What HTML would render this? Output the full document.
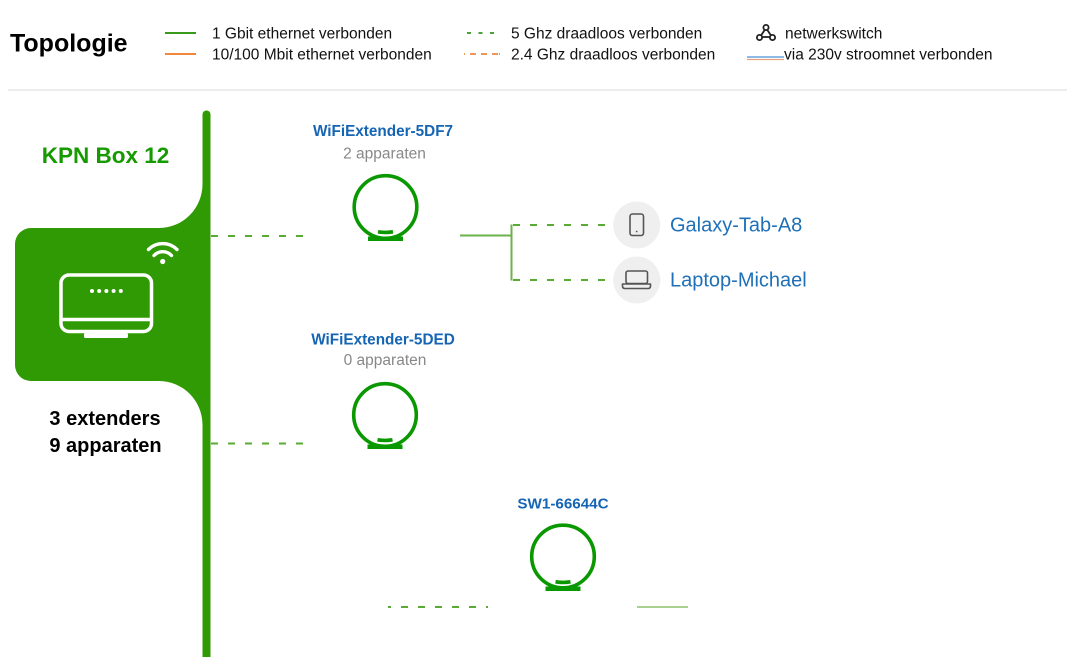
<!DOCTYPE html>
<html>
<head>
<meta charset="utf-8">
<style>
  html, body { margin:0; padding:0; background:#fff; }
  body { width:1067px; height:657px; overflow:hidden; }
  svg { display:block; }
  text { font-family: "Liberation Sans", Arial, sans-serif; }
</style>
</head>
<body>
<svg width="1067" height="657" viewBox="0 0 1067 657" xmlns="http://www.w3.org/2000/svg">
  <!-- Header -->
  <text x="10" y="51.5" font-size="25" font-weight="bold" fill="#000">Topologie</text>

  <line x1="165" y1="33" x2="196" y2="33" stroke="#3a9a1c" stroke-width="2"/>
  <text x="212" y="38.5" font-size="15.5" fill="#111">1 Gbit ethernet verbonden</text>
  <line x1="165" y1="54" x2="196" y2="54" stroke="#f0873a" stroke-width="2"/>
  <text x="212" y="59.5" font-size="15.5" fill="#111">10/100 Mbit ethernet verbonden</text>

  <line x1="467" y1="33" x2="498" y2="33" stroke="#4aa23a" stroke-width="2" stroke-dasharray="4 7.5"/>
  <text x="511" y="38.5" font-size="15.5" fill="#111">5 Ghz draadloos verbonden</text>
  <line x1="464" y1="54" x2="500" y2="54" stroke="#f0955a" stroke-width="2" stroke-dasharray="1 5 6 5 6 5 6"/>
  <text x="511" y="59.5" font-size="15.5" fill="#111">2.4 Ghz draadloos verbonden</text>

  <!-- netwerkswitch icon -->
  <g stroke="#222" stroke-width="1.8" fill="none">
    <line x1="766" y1="28" x2="760" y2="37"/>
    <line x1="766" y1="28" x2="772" y2="37"/>
    <line x1="760" y1="37" x2="772" y2="37"/>
    <circle cx="766" cy="27.5" r="2.6" fill="#fff"/>
    <circle cx="759.5" cy="37.5" r="2.6" fill="#fff"/>
    <circle cx="772.5" cy="37.5" r="2.6" fill="#fff"/>
  </g>
  <text x="785" y="38.5" font-size="15.5" fill="#111">netwerkswitch</text>
  <line x1="747" y1="57" x2="784" y2="57" stroke="#4a90d9" stroke-width="1.2"/>
  <line x1="747" y1="59.5" x2="784" y2="59.5" stroke="#e8a080" stroke-width="1.2"/>
  <text x="784" y="59.5" font-size="15.5" fill="#111">via 230v stroomnet verbonden</text>

  <line x1="8" y1="90" x2="1067" y2="90" stroke="#d9d9d9" stroke-width="1"/>

  <!-- KPN box shape -->
  <rect x="202.5" y="110.5" width="8" height="560" rx="4" fill="#2f9a03"/>
  <path d="M31 228 L159 228 A43.5 44 0 0 0 202.5 184 L210.5 184 L210.5 425 L202.5 425 A43.5 44 0 0 0 159 381 L31 381 A16 16 0 0 1 15 365 L15 244 A16 16 0 0 1 31 228 Z" fill="#2f9a03"/>

  <text x="105.5" y="163.2" font-size="22.5" font-weight="bold" fill="#169a00" text-anchor="middle">KPN Box 12</text>
  <text x="105" y="425" font-size="20" font-weight="bold" fill="#000" text-anchor="middle">3 extenders</text>
  <text x="105.5" y="452" font-size="20" font-weight="bold" fill="#000" text-anchor="middle">9 apparaten</text>

  <!-- router icon -->
  <g fill="none" stroke="#fff" stroke-width="3.5">
    <rect x="61" y="275" width="90.5" height="56.5" rx="8"/>
    <line x1="61" y1="319.5" x2="151.5" y2="319.5"/>
  </g>
  <rect x="84" y="333" width="44" height="5" rx="1.5" fill="#fff"/>
  <g fill="#fff">
    <circle cx="92" cy="291" r="2"/>
    <circle cx="99.2" cy="291" r="2"/>
    <circle cx="106.4" cy="291" r="2"/>
    <circle cx="113.6" cy="291" r="2"/>
    <circle cx="120.8" cy="291" r="2"/>
  </g>
  <!-- wifi icon -->
  <g fill="none" stroke="#fff" stroke-width="3.4" stroke-linecap="round">
    <path d="M148.5 249.5 A20 20 0 0 1 177 249.5"/>
    <path d="M154 255.5 A12 12 0 0 1 171.5 255.5"/>
  </g>
  <circle cx="162.7" cy="261.5" r="2.6" fill="#fff"/>

  <!-- connectors -->
  <g stroke="#5aab33" stroke-width="2" fill="none" stroke-dasharray="7 10">
    <line x1="211" y1="236" x2="311" y2="236"/>
    <line x1="211" y1="443.5" x2="311" y2="443.5"/>
    <line x1="388" y1="607" x2="488" y2="607" stroke-dasharray="3 10 7 10 7 10 7 10 7 10 7 10 7 10"/>
    <line x1="513" y1="225" x2="613" y2="225"/>
    <line x1="513" y1="280" x2="613" y2="280"/>
  </g>
  <g stroke="#6cb24a" stroke-width="2" fill="none">
    <line x1="460" y1="235.5" x2="512" y2="235.5"/>
    <line x1="511.5" y1="224.5" x2="511.5" y2="280.5"/>
  </g>
  <line x1="637" y1="607" x2="688" y2="607" stroke="#a8d18f" stroke-width="2"/>

  <!-- Extender 1 -->
  <text x="383" y="136" font-size="15.3" font-weight="bold" fill="#1565b4" text-anchor="middle">WiFiExtender-5DF7</text>
  <text x="384.5" y="158.3" font-size="15.5" fill="#888" text-anchor="middle">2 apparaten</text>
  <circle cx="385.5" cy="207" r="31.3" fill="none" stroke="#0a9800" stroke-width="3.6"/>
  <rect x="368" y="236.5" width="35" height="4.5" fill="#0a9800"/>
  <path d="M378 231.8 Q385.5 233 393 231.8" stroke="#0a9800" stroke-width="3.6" fill="none"/>

  <!-- Extender 2 -->
  <text x="383" y="344.3" font-size="15.3" font-weight="bold" fill="#1565b4" text-anchor="middle">WiFiExtender-5DED</text>
  <text x="385" y="365" font-size="15.5" fill="#888" text-anchor="middle">0 apparaten</text>
  <circle cx="385" cy="415" r="31.3" fill="none" stroke="#0a9800" stroke-width="3.6"/>
  <rect x="367.5" y="444.5" width="35" height="4.5" fill="#0a9800"/>
  <path d="M377.5 439.8 Q385 441 392.5 439.8" stroke="#0a9800" stroke-width="3.6" fill="none"/>

  <!-- Switch -->
  <text x="563" y="508.3" font-size="15.2" font-weight="bold" fill="#1565b4" text-anchor="middle">SW1-66644C</text>
  <circle cx="563" cy="556.5" r="31.3" fill="none" stroke="#0a9800" stroke-width="3.6"/>
  <rect x="545.5" y="586.5" width="35" height="4.5" fill="#0a9800"/>
  <path d="M555.5 581.8 Q563 583 570.5 581.8" stroke="#0a9800" stroke-width="3.6" fill="none"/>

  <!-- Devices -->
  <circle cx="636.7" cy="225" r="23.5" fill="#efefef"/>
  <rect x="630" y="214" width="13.5" height="21.5" rx="2.5" fill="none" stroke="#555" stroke-width="1.6"/>
  <circle cx="636.7" cy="231.5" r="0.9" fill="#555"/>
  <text x="670" y="231.7" font-size="20" fill="#1f70b8">Galaxy-Tab-A8</text>

  <circle cx="636.7" cy="280" r="23.5" fill="#efefef"/>
  <rect x="626" y="271" width="21.5" height="12.5" rx="2" fill="none" stroke="#555" stroke-width="1.6"/>
  <path d="M622.5 284 L650.5 284 L650.5 286 Q650.5 288.5 648 288.5 L625 288.5 Q622.5 288.5 622.5 286 Z" fill="none" stroke="#555" stroke-width="1.6" stroke-linejoin="round"/>
  <text x="670" y="286.7" font-size="20" fill="#1f70b8">Laptop-Michael</text>
</svg>
</body>
</html>
